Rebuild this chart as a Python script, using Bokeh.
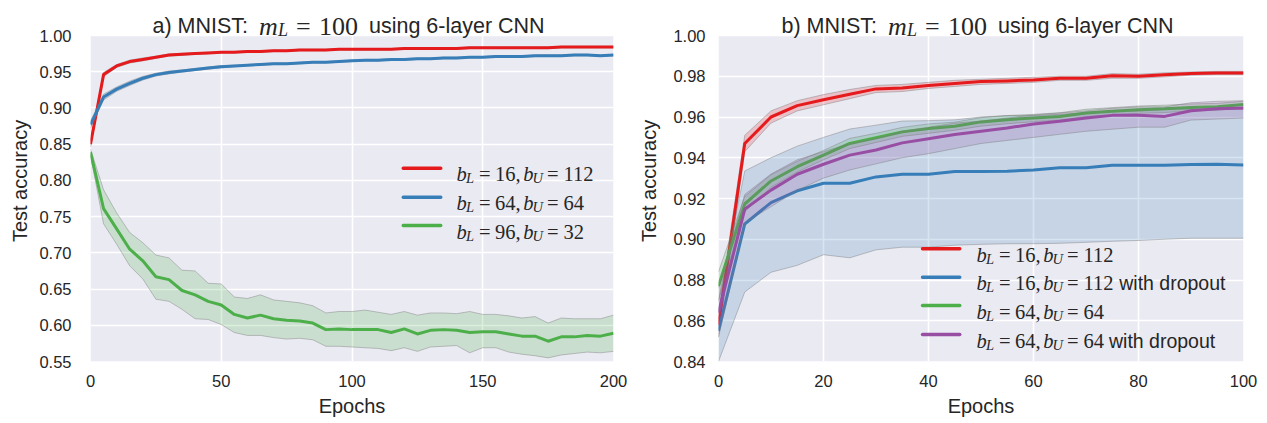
from bokeh.plotting import figure
from bokeh.layouts import row
from bokeh.models import Range1d, FixedTicker, PrintfTickFormatter, Label, BoxAnnotation
from bokeh.embed import file_html
from bokeh.resources import INLINE

# ---------------- data: panel a ----------------
epochs_a = list(range(0, 201, 5))
red_a = [0.850, 0.946, 0.958, 0.964, 0.967, 0.970, 0.973, 0.974, 0.975, 0.976,
         0.977, 0.977, 0.978, 0.978, 0.979, 0.979, 0.980, 0.980, 0.980, 0.981,
         0.981, 0.981, 0.981, 0.981, 0.982, 0.982, 0.982, 0.982, 0.982, 0.983,
         0.983, 0.983, 0.983, 0.983, 0.983, 0.983, 0.984, 0.984, 0.984, 0.984, 0.984]
red_a_spread = [0.004, 0.003, 0.002, 0.002, 0.002, 0.0015, 0.0015, 0.0015, 0.001, 0.001,
                0.001, 0.001, 0.001, 0.001, 0.001, 0.001, 0.001, 0.001, 0.001, 0.001,
                0.001, 0.001, 0.001, 0.001, 0.001, 0.001, 0.001, 0.001, 0.001, 0.001,
                0.001, 0.001, 0.001, 0.001, 0.001, 0.001, 0.001, 0.001, 0.001, 0.001, 0.001]
blue_a = [0.877, 0.915, 0.926, 0.934, 0.941, 0.946, 0.949, 0.951, 0.953, 0.955,
          0.957, 0.958, 0.959, 0.960, 0.961, 0.961, 0.962, 0.963, 0.963, 0.964,
          0.965, 0.966, 0.966, 0.967, 0.967, 0.968, 0.968, 0.969, 0.969, 0.970,
          0.970, 0.971, 0.971, 0.971, 0.972, 0.972, 0.972, 0.973, 0.973, 0.972, 0.973]
blue_a_spread = [0.005, 0.004, 0.003, 0.003, 0.0025, 0.002, 0.002, 0.0015, 0.0015, 0.0015,
                 0.0015, 0.001, 0.001, 0.001, 0.001, 0.001, 0.001, 0.001, 0.001, 0.001,
                 0.001, 0.001, 0.001, 0.001, 0.001, 0.001, 0.001, 0.001, 0.001, 0.001,
                 0.001, 0.001, 0.001, 0.001, 0.001, 0.001, 0.001, 0.001, 0.001, 0.001, 0.001]
green_a = [0.839, 0.761, 0.733, 0.705, 0.689, 0.667, 0.663, 0.648, 0.642, 0.633,
           0.628, 0.615, 0.610, 0.614, 0.609, 0.607, 0.606, 0.603, 0.594, 0.595,
           0.594, 0.594, 0.594, 0.590, 0.595, 0.588, 0.593, 0.594, 0.593, 0.590,
           0.591, 0.591, 0.588, 0.585, 0.585, 0.578, 0.584, 0.584, 0.586, 0.585, 0.589]
green_a_upper = [0.843, 0.787, 0.755, 0.728, 0.714, 0.697, 0.693, 0.676, 0.675, 0.658,
                 0.657, 0.639, 0.637, 0.642, 0.635, 0.633, 0.631, 0.627, 0.617, 0.619,
                 0.619, 0.621, 0.618, 0.615, 0.619, 0.614, 0.617, 0.617, 0.616, 0.619,
                 0.615, 0.615, 0.613, 0.610, 0.612, 0.603, 0.610, 0.609, 0.609, 0.609, 0.614]
green_a_lower = [0.835, 0.740, 0.712, 0.682, 0.664, 0.636, 0.633, 0.622, 0.609, 0.608,
                 0.601, 0.590, 0.586, 0.586, 0.583, 0.581, 0.582, 0.580, 0.571, 0.571,
                 0.570, 0.569, 0.568, 0.565, 0.569, 0.564, 0.570, 0.571, 0.572, 0.562,
                 0.569, 0.569, 0.563, 0.560, 0.558, 0.555, 0.559, 0.561, 0.563, 0.562, 0.564]

# ---------------- data: panel b ----------------
epochs_b = list(range(0, 101, 5))
red_b = [0.858, 0.947, 0.960, 0.9656, 0.9685, 0.9712, 0.9738, 0.9742, 0.9755, 0.9764, 0.9774,
         0.9777, 0.9782, 0.9790, 0.9790, 0.9803, 0.9800, 0.9807, 0.9813, 0.9816, 0.9816]
red_b_lower = [0.852, 0.943, 0.957, 0.963, 0.966, 0.969, 0.972, 0.9725, 0.974, 0.975, 0.976,
               0.9765, 0.977, 0.978, 0.978, 0.979, 0.979, 0.9797, 0.9805, 0.9808, 0.9808]
red_b_upper = [0.864, 0.951, 0.963, 0.968, 0.971, 0.9735, 0.9755, 0.976, 0.977, 0.978, 0.9785,
               0.979, 0.9795, 0.980, 0.980, 0.9813, 0.981, 0.9817, 0.9821, 0.9824, 0.9824]
blue_b = [0.855, 0.9075, 0.918, 0.9238, 0.9275, 0.9275, 0.9306, 0.9319, 0.9319, 0.9332, 0.9332,
          0.9334, 0.934, 0.9351, 0.9351, 0.9363, 0.9363, 0.9363, 0.9367, 0.9368, 0.9364]
blue_b_lower = [0.840, 0.8741, 0.8838, 0.8872, 0.8924, 0.8909, 0.8948, 0.8961, 0.8961, 0.8971, 0.8975,
                0.8978, 0.8978, 0.898, 0.8985, 0.899, 0.8994, 0.900, 0.9005, 0.9005, 0.9005]
blue_b_upper = [0.870, 0.9335, 0.940, 0.9457, 0.950, 0.9541, 0.956, 0.958, 0.9582, 0.9586, 0.960,
                0.9607, 0.9607, 0.9613, 0.962, 0.9628, 0.9628, 0.9637, 0.9637, 0.9637, 0.9637]
green_b = [0.877, 0.9173, 0.9286, 0.9356, 0.9413, 0.947, 0.9498, 0.9527, 0.9543, 0.9555, 0.9576,
           0.9587, 0.9595, 0.9603, 0.962, 0.9628, 0.9636, 0.964, 0.9647, 0.965, 0.9661]
green_b_lower = [0.870, 0.9135, 0.9255, 0.933, 0.939, 0.9445, 0.9475, 0.9505, 0.952, 0.9535, 0.9555,
                 0.9567, 0.9577, 0.9585, 0.9602, 0.961, 0.9618, 0.9622, 0.963, 0.9633, 0.9645]
green_b_upper = [0.884, 0.921, 0.9317, 0.9382, 0.9436, 0.9495, 0.952, 0.9549, 0.9566, 0.9575, 0.9597,
                 0.9607, 0.9613, 0.9621, 0.9638, 0.9646, 0.9654, 0.9658, 0.9664, 0.9667, 0.9677]
purple_b = [0.864, 0.9148, 0.9241, 0.9319, 0.9368, 0.9413, 0.9438, 0.9473, 0.9493, 0.9514, 0.953,
            0.9546, 0.9566, 0.9579, 0.9595, 0.9608, 0.9608, 0.9603, 0.9631, 0.964, 0.9644]
purple_b_lower = [0.852, 0.908, 0.916, 0.924, 0.930, 0.934, 0.937, 0.940, 0.942, 0.9445, 0.947,
                  0.9485, 0.950, 0.9515, 0.953, 0.954, 0.955, 0.955, 0.9585, 0.959, 0.9595]
purple_b_upper = [0.876, 0.922, 0.932, 0.939, 0.943, 0.947, 0.9495, 0.953, 0.955, 0.957, 0.958,
                  0.9595, 0.961, 0.962, 0.963, 0.9643, 0.965, 0.965, 0.967, 0.9677, 0.968]

# ticks / labels
xticks_a = [0, 50, 100, 150, 200]
yticks_a = [0.55, 0.60, 0.65, 0.70, 0.75, 0.80, 0.85, 0.90, 0.95, 1.00]
xticks_b = [0, 20, 40, 60, 80, 100]
yticks_b = [0.84, 0.86, 0.88, 0.90, 0.92, 0.94, 0.96, 0.98, 1.00]
title_prefix = ["a) MNIST:", "b) MNIST:"]
title_m_value = "100"
title_suffix = "using 6-layer CNN"
legend_a = [("16", "112", ""), ("64", "64", ""), ("96", "32", "")]
legend_b = [("16", "112", ""), ("16", "112", "with dropout"),
            ("64", "64", ""), ("64", "64", "with dropout")]

RED, BLUE, GREEN, PURPLE = "#e41a1c", "#377eb8", "#4daf4a", "#984ea3"
TXT = "#262626"
SANS = "Liberation Sans"
SERIF = "Liberation Serif"

DATA_H = 326        # height of the shaded data area (px)
HEAD = 35           # white band above the data area that holds the title (px)
BOTTOM = 60


def make_fig(fw, left, right, xr, yr, xt, yt, ylab_so, yax_so):
    extra = (yr[1] - yr[0]) * HEAD / DATA_H
    p = figure(frame_width=fw, frame_height=DATA_H + HEAD,
               x_range=Range1d(*xr), y_range=Range1d(yr[0], yr[1] + extra),
               output_backend="svg", toolbar_location=None, title_location=None,
               min_border_left=left, min_border_right=right,
               min_border_top=0, min_border_bottom=BOTTOM)
    p.background_fill_color = "white"
    p.border_fill_color = "white"
    p.outline_line_color = None
    # shaded data area (the seaborn 'darkgrid' face)
    p.add_layout(BoxAnnotation(left=xr[0], right=xr[1], bottom=yr[0], top=yr[1],
                               fill_color="#eaeaf2", fill_alpha=1.0, line_color=None,
                               level="image"))
    p.xaxis.ticker = FixedTicker(ticks=xt)
    p.yaxis.ticker = FixedTicker(ticks=yt)
    p.yaxis.formatter = PrintfTickFormatter(format="%.2f")
    p.yaxis.bounds = (yr[0], yr[1])
    p.xaxis.axis_label = "Epochs"
    p.yaxis.axis_label = "Test accuracy"
    for ax in (p.xaxis[0], p.yaxis[0]):
        ax.axis_line_color = None
        ax.major_tick_line_color = None
        ax.minor_tick_line_color = None
        ax.major_tick_out = 0
        ax.major_tick_in = 0
        ax.minor_tick_out = 0
        ax.major_label_text_font = SANS
        ax.major_label_text_font_size = "16.5px"
        ax.major_label_text_color = TXT
        ax.axis_label_text_font = SANS
        ax.axis_label_text_font_size = "20px"
        ax.axis_label_text_font_style = "normal"
        ax.axis_label_text_color = TXT
    p.xaxis.major_label_standoff = 13
    p.xaxis.axis_label_standoff = 5
    p.yaxis.major_label_standoff = ylab_so
    p.yaxis.axis_label_standoff = yax_so
    p.grid.grid_line_color = "white"
    p.grid.grid_line_width = 1.6
    p.xgrid.bounds = (yr[0], yr[1])
    return p


def band(p, x, lo, hi, color):
    p.varea(x=x, y1=lo, y2=hi, fill_color=color, fill_alpha=0.2)
    p.line(x, lo, line_color="#7f7f7f", line_alpha=0.45, line_width=1)
    p.line(x, hi, line_color="#7f7f7f", line_alpha=0.45, line_width=1)


def series(p, x, y, color):
    p.line(x, y, line_color=color, line_width=3, line_join="round")


def put(p, x, y, text, font, size, style="normal"):
    p.add_layout(Label(x=x, y=y, x_units="screen", y_units="screen", text=text,
                       text_font=font, text_font_size=f"{size}px", text_font_style=style,
                       text_color=TXT, text_baseline="alphabetic", text_align="left"))


def title(p, fw, prefix):
    c = fw / 2.0
    base = DATA_H + 9.3
    put(p, c - 199.5, base, prefix, SANS, 21.5)
    put(p, c - 93.0, base, "m", SERIF, 26, "italic")
    put(p, c - 74.0, base - 4.0, "L", SERIF, 18, "italic")
    put(p, c - 56.0, base, "=", SERIF, 26)
    put(p, c - 33.0, base, title_m_value, SERIF, 26)
    put(p, c + 17.0, base, title_suffix, SANS, 21.5)


def legend(p, entries, colors, x_line0, x_line1, x_text, ys):
    for (n1, n2, extra), color, y in zip(entries, colors, ys):
        p.add_layout(BoxAnnotation(left=x_line0, right=x_line1, bottom=y - 1.7, top=y + 1.7,
                                   left_units="screen", right_units="screen",
                                   bottom_units="screen", top_units="screen",
                                   fill_color=color, fill_alpha=1.0, line_color=None,
                                   border_radius=2))
        b = y - 6
        put(p, x_text, b, "b", SERIF, 20.5, "italic")
        put(p, x_text + 9.5, b - 4, "L", SERIF, 14.5, "italic")
        put(p, x_text + 22.5, b, "=", SERIF, 20.5)
        put(p, x_text + 38.5, b, n1 + ",", SERIF, 20.5)
        put(p, x_text + 66.7, b, "b", SERIF, 20.5, "italic")
        put(p, x_text + 76, b - 4, "U", SERIF, 14.5, "italic")
        put(p, x_text + 90.5, b, "=", SERIF, 20.5)
        put(p, x_text + 107.0, b, n2, SERIF, 20.5)
        if extra:
            put(p, x_text + 107.0 + 10.25 * len(n2) + 5, b, extra, SANS, 19.5)


# ---------------- panel a ----------------
pa = make_fig(523, 90, 22, (0, 200), (0.55, 1.0), xticks_a, yticks_a, 19, 5)
band(pa, epochs_a, [m - s for m, s in zip(red_a, red_a_spread)],
     [m + s for m, s in zip(red_a, red_a_spread)], RED)
series(pa, epochs_a, red_a, RED)
band(pa, epochs_a, [m - s for m, s in zip(blue_a, blue_a_spread)],
     [m + s for m, s in zip(blue_a, blue_a_spread)], BLUE)
series(pa, epochs_a, blue_a, BLUE)
band(pa, epochs_a, green_a_lower, green_a_upper, GREEN)
series(pa, epochs_a, green_a, GREEN)
title(pa, 523, title_prefix[0])
legend(pa, legend_a, [RED, BLUE, GREEN], 311, 352, 366, [193.3, 164.3, 136.0])

# ---------------- panel b ----------------
pb = make_fig(525, 82, 20, (0, 100), (0.84, 1.0), xticks_b, yticks_b, 13, 10)
band(pb, epochs_b, red_b_lower, red_b_upper, RED)
series(pb, epochs_b, red_b, RED)
band(pb, epochs_b, blue_b_lower, blue_b_upper, BLUE)
series(pb, epochs_b, blue_b, BLUE)
band(pb, epochs_b, green_b_lower, green_b_upper, GREEN)
series(pb, epochs_b, green_b, GREEN)
band(pb, epochs_b, purple_b_lower, purple_b_upper, PURPLE)
series(pb, epochs_b, purple_b, PURPLE)
title(pb, 525, title_prefix[1])
legend(pb, legend_b, [RED, BLUE, GREEN, PURPLE], 202.3, 243, 258, [112.7, 84.3, 56.0, 27.0])

layout = row(pa, pb)
open("out.html", "w").write(file_html(layout, INLINE))
